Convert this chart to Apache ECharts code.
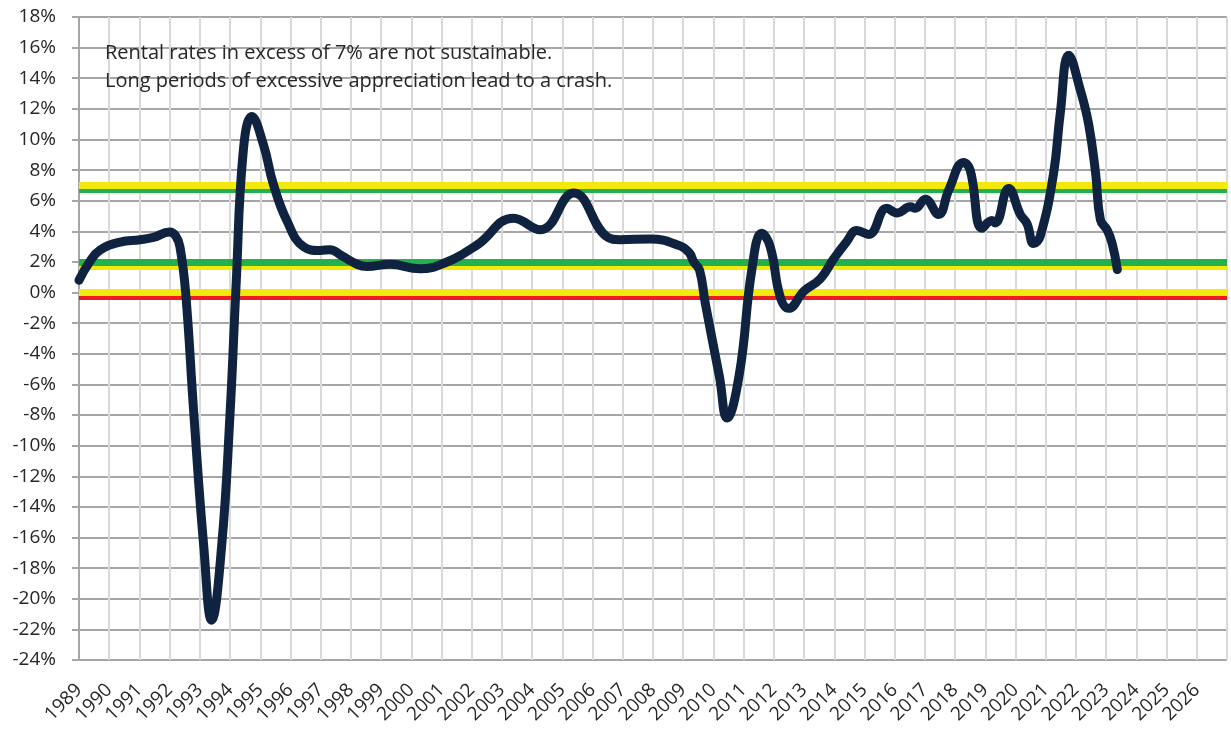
<!DOCTYPE html>
<html>
<head>
<meta charset="utf-8">
<script src="https://cdn.jsdelivr.net/npm/echarts@6/dist/echarts.min.js"></script>
<style>
html,body{margin:0;padding:0;background:#fff;}
#chart{width:1231px;height:729px;}
</style>
</head>
<body>
<div id="chart"></div>
<script>
// Time (decimal years) and year-over-year rent change (%)
var years = [1989.0, 1989.35, 1989.7, 1990.36, 1991.02, 1991.46, 1992.0, 1992.2, 1992.34, 1992.53, 1992.8, 1993.13, 1993.39, 1993.72, 1994.0, 1994.2, 1994.44, 1994.72, 1995.1, 1995.43, 1995.88, 1996.43, 1996.98, 1997.3, 1997.7, 1998.2, 1998.53, 1999.3, 2000.29, 2001.06, 2002.17, 2003.38, 2004.27, 2005.37, 2006.47, 2006.91, 2007.9, 2008.9, 2009.2, 2009.35, 2009.54, 2009.73, 2010.2, 2010.45, 2010.86, 2011.27, 2011.6, 2011.88, 2012.21, 2012.49, 2013.0, 2013.54, 2013.98, 2014.4, 2014.75, 2015.14, 2015.74, 2016.08, 2016.52, 2016.68, 2017.01, 2017.45, 2017.79, 2018.28, 2018.5, 2018.89, 2019.22, 2019.33, 2019.77, 2020.16, 2020.38, 2020.6, 2020.82, 2021.26, 2021.48, 2021.76, 2022.15, 2022.42, 2022.65, 2022.81, 2023.03, 2023.2, 2023.37];
var rentChange = [0.8, 2.0, 2.78, 3.3, 3.45, 3.6, 3.95, 3.7, 3.0, 0.0, -7.9, -16.6, -21.4, -16.6, -7.9, 0.5, 9.3, 11.5, 9.7, 7.1, 4.7, 3.0, 2.75, 2.8, 2.4, 1.85, 1.7, 1.85, 1.55, 1.9, 3.1, 4.85, 4.1, 6.5, 3.65, 3.45, 3.5, 3.05, 2.6, 2.0, 1.47, -0.7, -5.5, -8.2, -5.3, 1.47, 3.87, 3.0, -0.27, -1.03, 0.1, 0.9, 2.2, 3.3, 4.05, 3.8, 5.5, 5.2, 5.6, 5.5, 6.1, 5.1, 6.7, 8.5, 8.0, 4.2, 4.7, 4.55, 6.8, 5.1, 4.5, 3.2, 3.7, 7.8, 11.7, 15.5, 13.2, 11.0, 7.8, 4.75, 4.1, 3.2, 1.5];

// Reference band levels (%)
var yellowLevels = [7.0, 1.75, 0.0];
var greenLevels = [6.73, 2.0];
var redLevels = [-0.23];

// Axis ticks
var xMin = 1989, xMax = 2027, xStep = 1;
var yMin = -24, yMax = 18, yStep = 2;

var notes = [
  'Rental rates in excess of 7% are not sustainable.',
  'Long periods of excessive appreciation lead to a crash.'
];

var seriesData = years.map(function (t, i) { return [t, rentChange[i]]; });

var FONT = 'Open Sans';
var TXT = '#262626';

function bandSeries(name, levels, color, z) {
  return {
    name: name,
    type: 'line',
    data: [],
    z: z,
    silent: true,
    markLine: {
      symbol: ['none', 'none'],
      silent: true,
      label: { show: false },
      lineStyle: { color: color, width: 7, type: 'solid' },
      data: levels.map(function (v) { return { yAxis: v }; }),
      z: z
    }
  };
}

var chart = echarts.init(document.getElementById('chart'), null, { renderer: 'canvas' });
chart.setOption({
  animation: false,
  backgroundColor: '#ffffff',
  grid: { left: 79, right: 4, top: 17, bottom: 69, containLabel: false },
  xAxis: {
    type: 'value',
    min: xMin, max: xMax, interval: xStep,
    axisLine: { show: false },
    axisTick: { show: false },
    splitLine: { show: true, lineStyle: { color: '#d9d9d9', width: 2 } },
    axisLabel: {
      rotate: 45,
      margin: 27,
      color: TXT,
      fontFamily: FONT,
      fontSize: 19,
      formatter: function (v) { return v >= xMax ? '' : String(v); }
    }
  },
  yAxis: {
    type: 'value',
    min: yMin, max: yMax, interval: yStep,
    axisLine: { show: true, onZero: false, lineStyle: { color: '#a6a6a6', width: 2 } },
    axisTick: { show: true, length: 7, lineStyle: { color: '#a6a6a6', width: 2 } },
    splitLine: { show: true, lineStyle: { color: '#a6a6a6', width: 2 } },
    axisLabel: {
      margin: 23,
      color: TXT,
      fontFamily: FONT,
      fontSize: 19,
      formatter: function (v) { return v + '%'; }
    }
  },
  graphic: [
    { type: 'text', z: 100, left: 105, top: 43, style: { text: notes[0], font: '20px "' + FONT + '"', fill: TXT } },
    { type: 'text', z: 100, left: 105, top: 71, style: { text: notes[1], font: '20px "' + FONT + '"', fill: TXT } }
  ],
  series: [
    bandSeries('red', redLevels, '#ed1c24', 2),
    bandSeries('green', greenLevels.slice(0, 1), '#22b14c', 3),
    bandSeries('yellow', yellowLevels, '#f3ea0c', 4),
    bandSeries('green2', greenLevels.slice(1), '#22b14c', 5),
    {
      name: 'Rent change',
      type: 'line',
      data: seriesData,
      smooth: 0.45,
      showSymbol: false,
      z: 10,
      lineStyle: { color: '#0f2341', width: 9, cap: 'round', join: 'round' }
    }
  ]
});
</script>
</body>
</html>
